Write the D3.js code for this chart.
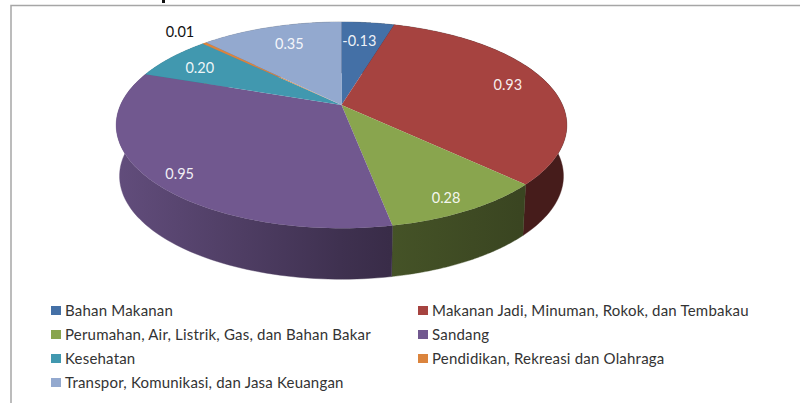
<!DOCTYPE html>
<html><head><meta charset="utf-8">
<script src="https://cdn.jsdelivr.net/npm/d3@7"></script>
<style>html,body{margin:0;padding:0;background:#fff;overflow:hidden}svg{display:block}text{font-family:"Lato","Open Sans",sans-serif}</style>
</head><body><script>
const categories = ["Bahan Makanan","Makanan Jadi, Minuman, Rokok, dan Tembakau","Perumahan, Air, Listrik, Gas, dan Bahan Bakar","Sandang","Kesehatan","Pendidikan, Rekreasi dan Olahraga","Transpor, Komunikasi, dan Jasa Keuangan"];
const values = [-0.13,0.93,0.28,0.95,0.20,0.01,0.35];
const valueLabels = ["-0.13","0.93","0.28","0.95","0.20","0.01","0.35"];
const colors = ["#4470a6","#a64340","#89a54e","#71588f","#4198af","#db843d","#93a9cf"];

const W=800,H=403;
const svg=d3.select("body").append("svg").attr("width",W).attr("height",H);
svg.append("rect").attr("width",W).attr("height",H).attr("fill","#fff");
// clipped title descender and chart frame
svg.append("rect").attr("x",162).attr("y",0).attr("width",3).attr("height",3).attr("fill","#111");
svg.append("path").attr("d",`M11,${H}V5.5H${W}`).attr("fill","none").attr("stroke","#a6a6a6").attr("stroke-width",1.5);

// perspective disc projection
const cx=341.5,cy=105,A=221,B=99.2,k=0.195,depth=51,baseScale=0.985;
const project=(a,r)=>{const u=r*Math.sin(a),v=-r*Math.cos(a),w=1-k*v;return [cx+A*u/w,cy+B*v/w];};
const projectBase=(a)=>{const p=project(a,1);return [cx+(p[0]-cx)*baseScale,p[1]+depth];};

const pie=d3.pie().sort(null).value(d=>Math.abs(d));
const arcs=pie(values);
const color=d3.scaleOrdinal().domain(categories).range(colors);
const line=d3.line();
const sample=(a0,a1)=>d3.range(0,81).map(i=>a0+(a1-a0)*i/80);

// side shading across the width of the pie
const shade=d3.scaleLinear().domain([116,340,390,520,567]).range([0.87,0.56,0.5,0.42,0.42]);
const defs=svg.append("defs");
categories.forEach((c,i)=>{
  const g=defs.append("linearGradient").attr("id","side"+i).attr("gradientUnits","userSpaceOnUse").attr("x1",116).attr("x2",567).attr("y1",0).attr("y2",0);
  shade.domain().forEach(x=>{
    const base=d3.rgb(color(c)),f=shade(x);
    g.append("stop").attr("offset",(x-116)/451).attr("stop-color",d3.rgb(base.r*f,base.g*f,base.b*f).formatHex());
  });
});

// walls
const walls=svg.append("g");
arcs.forEach((d,i)=>{
  const as=sample(d.startAngle,d.endAngle);
  const pts=as.map(a=>project(a,1)).concat(as.slice().reverse().map(projectBase));
  walls.append("path").attr("d",line(pts)+"Z").attr("fill",`url(#side${i})`).attr("stroke",`url(#side${i})`).attr("stroke-width",0.4);
});

// top faces
const tops=svg.append("g");
arcs.forEach((d,i)=>{
  const pts=[[cx,cy]].concat(sample(d.startAngle,d.endAngle).map(a=>project(a,1)));
  tops.append("path").attr("d",line(pts)+"Z").attr("fill",color(categories[i]));
});

// value labels along each slice's mid-angle
const labelRadius=[0.75,0.81,0.89,0.89,0.80,1.21,0.75];
const labelTurn=[-0.02,0,0.03,-0.05,-0.03,0,0.02];
const labelPos=d=>project((d.startAngle+d.endAngle)/2+labelTurn[d.index],labelRadius[d.index]);
const labelColor=["#fff","#fff","#fff","#fff","#fff","#111","#fff"];
svg.append("g").selectAll("text").data(arcs).join("text")
  .attr("x",d=>labelPos(d)[0]).attr("y",d=>labelPos(d)[1])
  .attr("dy","0.35em").attr("text-anchor","middle").attr("font-size",14.5)
  .attr("fill",d=>labelColor[d.index]).attr("fill-opacity",d=>d.index===5?1:0.92)
  .text(d=>valueLabels[d.index]);

// legend in two columns
const colX=d3.scaleOrdinal().domain([0,1]).range([51,418]);
const rowY=d3.scalePoint().domain([0,1,2,3]).range([311,383]);
const lg=svg.append("g").selectAll("g").data(categories).join("g")
  .attr("transform",(d,i)=>`translate(${colX(i%2)},${rowY(Math.floor(i/2))})`);
lg.append("rect").attr("x",0).attr("y",-5).attr("width",10).attr("height",9).attr("fill",d=>color(d));
lg.append("text").attr("x",14).attr("dy","0.35em").attr("font-size",15).attr("letter-spacing",0.2).attr("fill","#333").text(d=>d);
</script></body></html>
